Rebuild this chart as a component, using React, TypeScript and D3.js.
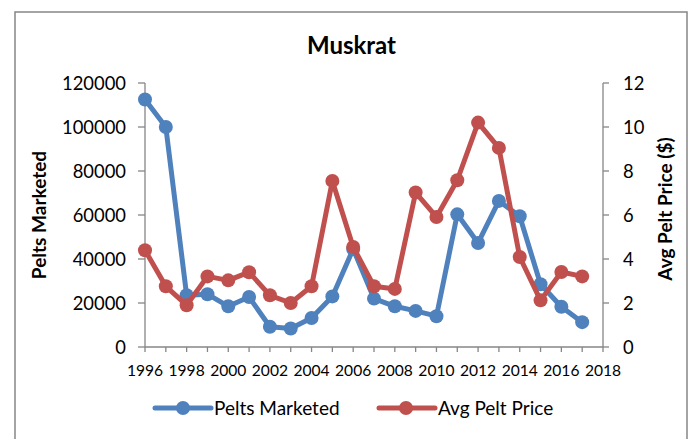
import React from "react";
import * as d3 from "d3";

const years = [1996,1997,1998,1999,2000,2001,2002,2003,2004,2005,2006,2007,2008,2009,2010,2011,2012,2013,2014,2015,2016,2017];
const pelts = [112500,100000,23500,24000,18500,22700,9200,8400,13200,23000,44500,22000,18500,16400,14000,60300,47300,66400,59400,28500,18300,11300];
const prices = [4.4,2.76,1.9,3.21,3.03,3.4,2.35,2.0,2.76,7.55,4.55,2.76,2.64,7.02,5.91,7.58,10.2,9.05,4.09,2.12,3.41,3.21];
const leftTicks = [0,20000,40000,60000,80000,100000,120000];
const rightTicks = [0,2,4,6,8,10,12];
const yearLabels = [1996,1998,2000,2002,2004,2006,2008,2010,2012,2014,2016,2018];
const allYearTicks = d3.range(1996, 2019);

const BLUE = "#4F81BD";
const RED = "#C0504D";
const AXIS = "#868686";
const FONT = "Lato, 'Open Sans', sans-serif";

export default function App() {
  const x0 = 145, x1 = 603, yb = 347, yt = 83;
  const x = d3.scaleLinear().domain([1996, 2018]).range([x0, x1]);
  const yL = d3.scaleLinear().domain([0, 120000]).range([yb, yt]);
  const yR = d3.scaleLinear().domain([0, 12]).range([yb, yt]);
  const lineL = d3.line<number>().x((_, i) => x(years[i])).y(d => yL(d));
  const lineR = d3.line<number>().x((_, i) => x(years[i])).y(d => yR(d));

  return (
    <svg width={693} height={439} style={{ display: "block", position: "absolute", left: 0, top: 0 }}>
      <rect x={0} y={0} width={693} height={439} fill="#fff" />
      <rect x={15} y={12} width={672} height={440} fill="none" stroke={AXIS} strokeWidth={1.5} />
      <text x={351.5} y={54} textAnchor="middle" fontFamily={FONT} fontWeight="bold" fontSize={24} fill="#000">Muskrat</text>

      {/* left axis */}
      <line x1={x0} y1={yt} x2={x0} y2={yb} stroke={AXIS} strokeWidth={1.3} />
      {leftTicks.map(t => (
        <g key={"l" + t}>
          <line x1={x0 - 7} x2={x0} y1={yL(t)} y2={yL(t)} stroke={AXIS} strokeWidth={1.3} />
          <text x={126} y={yL(t)} dy="0.36em" textAnchor="end" fontFamily={FONT} fontSize={18.4} fill="#000">{t}</text>
        </g>
      ))}
      {/* right axis */}
      <line x1={x1} y1={yt} x2={x1} y2={yb} stroke={AXIS} strokeWidth={1.3} />
      {rightTicks.map(t => (
        <g key={"r" + t}>
          <line x1={x1} x2={x1 + 6} y1={yR(t)} y2={yR(t)} stroke={AXIS} strokeWidth={1.3} />
          <text x={623} y={yR(t)} dy="0.36em" textAnchor="start" fontFamily={FONT} fontSize={18.4} fill="#000">{t}</text>
        </g>
      ))}
      {/* x axis */}
      <line x1={x0} y1={yb} x2={x1} y2={yb} stroke={AXIS} strokeWidth={1.3} />
      {allYearTicks.map(t => (
        <line key={"x" + t} x1={x(t)} x2={x(t)} y1={yb} y2={yb + 5} stroke={AXIS} strokeWidth={1.3} />
      ))}
      {yearLabels.map(t => (
        <text key={"xl" + t} x={x(t)} y={376} textAnchor="middle" fontFamily={FONT} fontSize={15.6} fill="#000">{t}</text>
      ))}

      <text transform="translate(46,215) rotate(-90)" textAnchor="middle" fontFamily={FONT} fontWeight="bold" fontSize={19} fill="#000">Pelts Marketed</text>
      <text transform="translate(672,209) rotate(-90)" textAnchor="middle" fontFamily={FONT} fontWeight="bold" fontSize={19} fill="#000">Avg Pelt Price ($)</text>

      <path d={lineL(pelts) || ""} fill="none" stroke={BLUE} strokeWidth={5} strokeLinejoin="round" />
      {pelts.map((d, i) => <circle key={"bp" + i} cx={x(years[i])} cy={yL(d)} r={7} fill={BLUE} />)}
      <path d={lineR(prices) || ""} fill="none" stroke={RED} strokeWidth={5} strokeLinejoin="round" />
      {prices.map((d, i) => <circle key={"rp" + i} cx={x(years[i])} cy={yR(d)} r={7} fill={RED} />)}

      {/* legend */}
      <line x1={155} x2={211} y1={408} y2={408} stroke={BLUE} strokeWidth={5} strokeLinecap="round" />
      <circle cx={183} cy={408} r={7} fill={BLUE} />
      <text x={214} y={408} dy="0.36em" fontFamily={FONT} fontSize={19} fill="#000">Pelts Marketed</text>
      <line x1={379} x2={435} y1={408} y2={408} stroke={RED} strokeWidth={5} strokeLinecap="round" />
      <circle cx={406} cy={408} r={7} fill={RED} />
      <text x={438} y={408} dy="0.36em" fontFamily={FONT} fontSize={19} fill="#000">Avg Pelt Price</text>
    </svg>
  );
}
